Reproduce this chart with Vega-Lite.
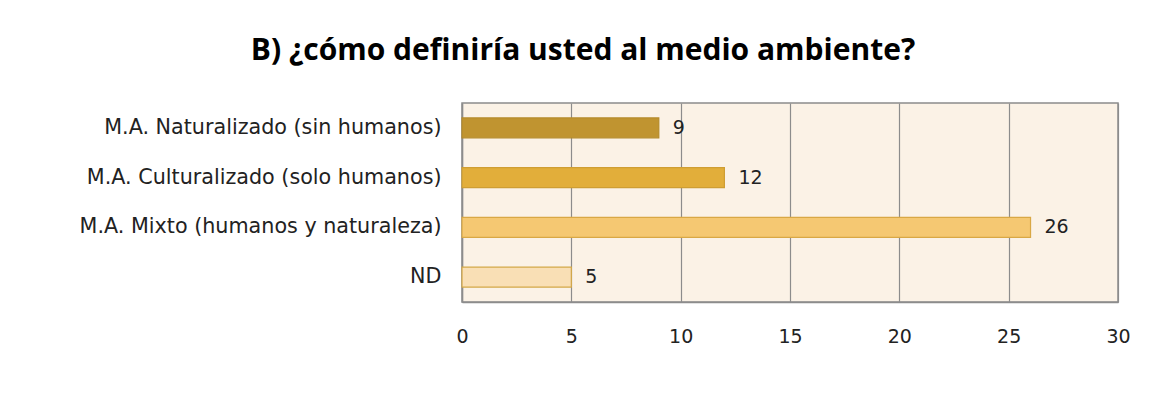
{
  "$schema": "https://vega.github.io/schema/vega-lite/v6.json",
  "width": 656,
  "height": 199,
  "autosize": {"type": "none"},
  "padding": {"left": 462, "top": 103, "right": 33, "bottom": 114},
  "background": "white",
  "title": {
    "text": "B) ¿cómo definiría usted al medio ambiente?",
    "font": "Open Sans",
    "fontSize": 30,
    "fontWeight": "bold",
    "color": "#000000",
    "anchor": "middle",
    "frame": "group",
    "dx": -207,
    "offset": 37
  },
  "data": {
    "values": [
      {"categoria": "M.A. Naturalizado (sin humanos)", "valor": 9},
      {"categoria": "M.A. Culturalizado (solo humanos)", "valor": 12},
      {"categoria": "M.A. Mixto (humanos y naturaleza)", "valor": 26},
      {"categoria": "ND", "valor": 5}
    ]
  },
  "config": {
    "view": {"fill": "#FBF2E6", "stroke": "#8C8C8C", "strokeWidth": 1.5},
    "font": "DejaVu Sans"
  },
  "encoding": {
    "y": {
      "field": "categoria",
      "type": "nominal",
      "sort": null,
      "title": null,
      "scale": {"paddingInner": 0.6, "paddingOuter": 0.3},
      "axis": {
        "ticks": false,
        "domain": true,
        "domainColor": "#8C8C8C",
        "domainWidth": 1.5,
        "labelFont": "DejaVu Sans",
        "labelFontSize": 20.7,
        "labelColor": "#222222",
        "labelPadding": 21,
        "labelLimit": 500
      }
    },
    "x": {
      "field": "valor",
      "type": "quantitative",
      "title": null,
      "scale": {"domain": [0, 30], "nice": false},
      "axis": {
        "values": [0, 5, 10, 15, 20, 25, 30],
        "ticks": false,
        "domain": true,
        "domainColor": "#8C8C8C",
        "domainWidth": 1.5,
        "grid": true,
        "gridColor": "#8C8C8C",
        "gridWidth": 1.2,
        "labelFont": "DejaVu Sans",
        "labelFontSize": 19,
        "labelColor": "#222222",
        "labelPadding": 25,
        "labelFlush": false
      }
    }
  },
  "layer": [
    {
      "mark": {"type": "bar", "strokeWidth": 1.2},
      "encoding": {
        "fill": {
          "field": "categoria",
          "type": "nominal",
          "sort": null,
          "legend": null,
          "scale": {
            "domain": ["M.A. Naturalizado (sin humanos)", "M.A. Culturalizado (solo humanos)", "M.A. Mixto (humanos y naturaleza)", "ND"],
            "range": ["#C09430", "#E2AE3A", "#F5C872", "#F9DFB5"]
          }
        },
        "stroke": {
          "field": "categoria",
          "type": "nominal",
          "sort": null,
          "legend": null,
          "scale": {
            "domain": ["M.A. Naturalizado (sin humanos)", "M.A. Culturalizado (solo humanos)", "M.A. Mixto (humanos y naturaleza)", "ND"],
            "range": ["#B58A2A", "#CF9E33", "#D9A845", "#D4A847"]
          }
        }
      }
    },
    {
      "mark": {"type": "text", "align": "left", "dx": 14, "fontSize": 19, "font": "DejaVu Sans", "color": "#222222"},
      "encoding": {"text": {"field": "valor", "type": "quantitative"}}
    }
  ]
}
